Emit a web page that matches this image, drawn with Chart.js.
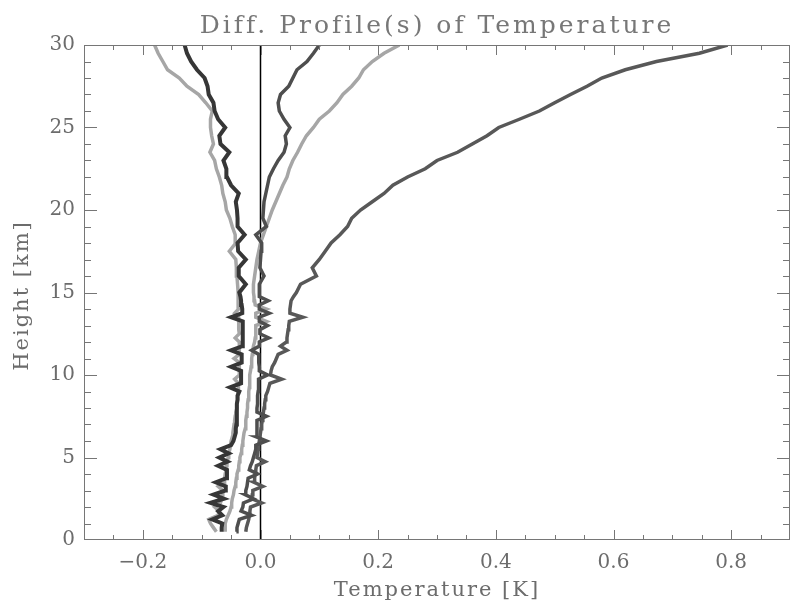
<!DOCTYPE html>
<html>
<head>
<meta charset="utf-8">
<title>Diff. Profile(s) of Temperature</title>
<script src="https://cdn.jsdelivr.net/npm/chart.js@4.4.1/dist/chart.umd.min.js"></script>
<style>
  html, body { margin: 0; padding: 0; background: #fff; }
  #profileChart { display: block; }
</style>
</head>
<body>
<canvas id="profileChart" width="792" height="612"></canvas>
<script>
// heights of the profile levels [km]: 0.25 km apart up to 15 km, 0.5 km above
const heights = [
  0.5, 0.75, 1, 1.25, 1.5, 1.75, 2, 2.25, 2.5, 2.75, 3, 3.25,
  3.5, 3.75, 4, 4.25, 4.5, 4.75, 5, 5.25, 5.5, 5.75, 6, 6.25,
  6.5, 6.75, 7, 7.25, 7.5, 7.75, 8, 8.25, 8.5, 8.75, 9, 9.25,
  9.5, 9.75, 10, 10.25, 10.5, 10.75, 11, 11.25, 11.5, 11.75, 12, 12.25,
  12.5, 12.75, 13, 13.25, 13.5, 13.75, 14, 14.25, 14.5, 14.75, 15,
  15.5, 16, 16.5, 17, 17.5, 18, 18.5, 19, 19.5, 20,
  20.5, 21, 21.5, 22, 22.5, 23, 23.5, 24, 24.5, 25,
  25.5, 26, 26.5, 27, 27.5, 28, 28.5, 29, 29.5, 30
];

// temperature differences [K], one value per height
const darkLeft = [
  -0.066, -0.066, -0.065, -0.082, -0.065, -0.072, -0.063, -0.085, -0.062, -0.080, -0.060, -0.059,
  -0.076, -0.058, -0.057, -0.057, -0.072, -0.056, -0.070, -0.054, -0.068, -0.050, -0.046, -0.044,
  -0.042, -0.042, -0.041, -0.041, -0.040, -0.040, -0.040, -0.040, -0.039, -0.039, -0.036, -0.052,
  -0.033, -0.033, -0.033, -0.033, -0.050, -0.032, -0.032, -0.032, -0.050, -0.031, -0.031, -0.030,
  -0.030, -0.030, -0.030, -0.030, -0.050, -0.031, -0.031, -0.032, -0.033, -0.034, -0.036,
  -0.025, -0.037, -0.037, -0.025, -0.038, -0.039, -0.027, -0.039, -0.039, -0.040,
  -0.042, -0.037, -0.050, -0.057, -0.058, -0.063, -0.053, -0.068, -0.070, -0.060,
  -0.072, -0.078, -0.080, -0.088, -0.090, -0.095, -0.108, -0.118, -0.125, -0.129
];
const lightLeft = [
  -0.075, -0.080, -0.085, -0.088, -0.072, -0.070, -0.078, -0.068, -0.066, -0.065, -0.064, -0.072,
  -0.062, -0.061, -0.060, -0.059, -0.058, -0.057, -0.055, -0.054, -0.052, -0.051, -0.050, -0.048,
  -0.047, -0.046, -0.045, -0.044, -0.043, -0.042, -0.040, -0.040, -0.039, -0.039, -0.038, -0.038,
  -0.037, -0.044, -0.036, -0.036, -0.036, -0.036, -0.045, -0.036, -0.036, -0.036, -0.036, -0.043,
  -0.036, -0.037, -0.037, -0.037, -0.037, -0.044, -0.037, -0.038, -0.038, -0.038, -0.038,
  -0.039, -0.040, -0.041, -0.042, -0.053, -0.042, -0.043, -0.048, -0.052, -0.058,
  -0.060, -0.064, -0.066, -0.070, -0.075, -0.078, -0.086, -0.080, -0.083, -0.085,
  -0.085, -0.082, -0.093, -0.105, -0.125, -0.138, -0.158, -0.166, -0.174, -0.180
];
const midRight = [
  -0.041, -0.040, -0.038, -0.036, -0.015, -0.033, -0.030, -0.029, -0.012, -0.026, -0.025, -0.023,
  -0.022, -0.021, -0.005, -0.019, -0.017, -0.014, -0.012, -0.010, -0.008, -0.008, 0.010, -0.007,
  -0.006, -0.006, -0.006, -0.006, 0.010, -0.006, -0.006, -0.005, -0.005, -0.005, -0.004, -0.004,
  -0.003, -0.003, 0.012, -0.002, -0.002, -0.003, -0.003, -0.003, -0.015, -0.002, -0.002, 0.014,
  -0.001, -0.001, 0.012, -0.002, -0.002, 0.015, -0.002, -0.002, 0.013, -0.002, -0.002,
  -0.002, 0.006, -0.001, 0.000, 0.001, 0.002, -0.008, 0.010, 0.004, 0.005,
  0.006, 0.009, 0.012, 0.015, 0.022, 0.030, 0.040, 0.044, 0.042, 0.050,
  0.040, 0.032, 0.030, 0.034, 0.048, 0.055, 0.062, 0.079, 0.090, 0.100
];
const lightRight = [
  -0.060, -0.060, -0.060, -0.058, -0.055, -0.052, -0.050, -0.049, -0.048, -0.046, -0.045, -0.043,
  -0.042, -0.041, -0.040, -0.038, -0.037, -0.036, -0.035, -0.033, -0.032, -0.031, -0.030, -0.029,
  -0.028, -0.026, -0.025, -0.025, -0.024, -0.023, -0.022, -0.022, -0.021, -0.020, -0.020, -0.019,
  -0.019, -0.018, -0.018, -0.017, -0.016, -0.015, -0.015, -0.014, -0.013, -0.012, -0.010, -0.009,
  -0.008, -0.008, -0.008, 0.010, -0.008, -0.008, 0.010, -0.009, -0.010, -0.011, -0.012,
  -0.012, -0.010, -0.008, -0.006, -0.003, 0.000, 0.005, 0.010, 0.015, 0.020,
  0.026, 0.032, 0.038, 0.045, 0.049, 0.055, 0.063, 0.070, 0.078, 0.090,
  0.100, 0.117, 0.130, 0.140, 0.155, 0.167, 0.175, 0.190, 0.210, 0.236
];
const farRight = [
  -0.025, -0.024, -0.022, -0.020, -0.019, -0.018, -0.017, 0.002, -0.015, -0.014, -0.013, 0.004,
  -0.011, -0.010, -0.009, -0.008, -0.007, 0.008, -0.006, -0.005, -0.004, -0.003, -0.002, -0.001,
  0.000, 0.001, 0.002, 0.003, 0.004, 0.005, 0.006, 0.007, 0.008, 0.009, 0.012, 0.014,
  0.016, 0.036, 0.017, 0.018, 0.020, 0.024, 0.027, 0.030, 0.045, 0.034, 0.044, 0.045,
  0.046, 0.047, 0.048, 0.049, 0.072, 0.050, 0.050, 0.051, 0.052, 0.056, 0.061,
  0.068, 0.095, 0.088, 0.100, 0.110, 0.120, 0.135, 0.148, 0.155, 0.170,
  0.190, 0.210, 0.225, 0.250, 0.280, 0.300, 0.335, 0.360, 0.385, 0.405,
  0.440, 0.474, 0.500, 0.527, 0.555, 0.580, 0.620, 0.673, 0.746, 0.794
];

// reference line at 0 K
const zeroLineX = [0, 0];
const zeroLineY = [0, 30];

// axes
const xRange = [-0.3, 0.9];
const yRange = [0, 30];
const xTickValues = [-0.2, 0.0, 0.2, 0.4, 0.6, 0.8];
const yTickValues = [0, 5, 10, 15, 20, 25, 30];
const xMinorStep = 0.05;
const yMinorStep = 1;

const titleText = "Diff. Profile(s) of Temperature";
const xTitleText = "Temperature [K]";
const yTitleText = "Height [km]";

const AXIS_GREY = "#767676";
const TEXT_GREY = "#6c6c6c";
const SERIF = "'DejaVu Serif', 'Liberation Serif', serif";

function toPoints(xs, ys) {
  return ys.map((y, i) => ({ x: xs[i], y: y }));
}

function profile(label, values, color, width) {
  return {
    label: label,
    data: toPoints(values, heights),
    showLine: true,
    borderColor: color,
    backgroundColor: color,
    borderWidth: width,
    borderJoinStyle: "miter",
    pointRadius: 0,
    tension: 0,
    fill: false,
  };
}

// box round the plot with IDL style inward ticks on all four sides
const boxTicks = {
  id: "boxTicks",
  afterDraw(chart) {
    const { ctx, chartArea: a, scales } = chart;
    const xs = scales.x, ys = scales.y;
    ctx.save();
    ctx.strokeStyle = AXIS_GREY;
    ctx.lineWidth = 1;
    ctx.strokeRect(a.left + 0.5, a.top + 0.5, a.right - a.left - 1, a.bottom - a.top - 1);

    ctx.beginPath();
    // x ticks, bottom and top
    const xCount = Math.round((xRange[1] - xRange[0]) / xMinorStep);
    for (let i = 1; i < xCount; i++) {
      const v = xRange[0] + i * xMinorStep;
      const major = xTickValues.some((t) => Math.abs(t - v) < 1e-6);
      const len = major ? 10 : 5;
      const px = Math.round(xs.getPixelForValue(v)) + 0.5;
      ctx.moveTo(px, a.bottom);
      ctx.lineTo(px, a.bottom - len);
      ctx.moveTo(px, a.top);
      ctx.lineTo(px, a.top + len);
    }
    // y ticks, left and right
    const yCount = Math.round((yRange[1] - yRange[0]) / yMinorStep);
    for (let i = 1; i < yCount; i++) {
      const v = yRange[0] + i * yMinorStep;
      const major = yTickValues.includes(v);
      const len = major ? 13 : 7;
      const py = Math.round(ys.getPixelForValue(v)) + 0.5;
      ctx.moveTo(a.left, py);
      ctx.lineTo(a.left + len, py);
      ctx.moveTo(a.right, py);
      ctx.lineTo(a.right - len, py);
    }
    ctx.stroke();
    ctx.restore();
  },
};

// titles in the wide, spaced out look of the original vector font
const spacedTitles = {
  id: "spacedTitles",
  afterDraw(chart) {
    const { ctx, chartArea: a } = chart;
    const cx = (a.left + a.right) / 2;
    ctx.save();
    ctx.textAlign = "center";

    ctx.letterSpacing = "3px";
    ctx.font = "25px " + SERIF;
    ctx.fillStyle = "#777777";
    ctx.textBaseline = "alphabetic";
    ctx.fillText(titleText, cx, 33);

    ctx.letterSpacing = "2px";
    ctx.font = "21px " + SERIF;
    ctx.fillStyle = TEXT_GREY;
    ctx.textBaseline = "middle";
    ctx.fillText(xTitleText, cx, 591);

    ctx.translate(23, (a.top + a.bottom) / 2 + 3);
    ctx.rotate(-Math.PI / 2);
    ctx.fillText(yTitleText, 0, 0);
    ctx.restore();
  },
};

document.addEventListener("DOMContentLoaded", function () {
  if (typeof Chart === "undefined") {
    console.error("Chart.js did not load");
    return;
  }

  const el = document.getElementById("profileChart");

  new Chart(el.getContext("2d"), {
    type: "scatter",
    data: {
      datasets: [
        profile("dark left", darkLeft, "#363636", 4),
        profile("mid right", midRight, "#4e4e4e", 3.5),
        profile("far right", farRight, "#585858", 3.5),
        profile("light left", lightLeft, "#a6a6a6", 3.5),
        profile("light right", lightRight, "#a6a6a6", 3.5),
        {
          label: "zero",
          data: toPoints(zeroLineX, zeroLineY),
          showLine: true,
          borderColor: "#000",
          borderWidth: 1.5,
          pointRadius: 0,
        },
      ],
    },
    options: {
      responsive: false,
      animation: false,
      events: [],
      layout: { padding: { left: 0, right: 2, top: 45, bottom: 0 } },
      plugins: {
        legend: { display: false },
        tooltip: { enabled: false },
        title: { display: false },
      },
      scales: {
        x: {
          type: "linear",
          min: xRange[0],
          max: xRange[1],
          afterBuildTicks: (s) => { s.ticks = xTickValues.map((v) => ({ value: v })); },
          afterFit: (s) => { s.height = 72; },
          grid: { display: false, drawTicks: false },
          border: { display: false },
          ticks: {
            color: TEXT_GREY,
            padding: 11,
            maxRotation: 0,
            font: { family: SERIF, size: 20 },
            callback: (v) => v.toFixed(1).replace("-", "\u2212"),
          },
        },
        y: {
          type: "linear",
          min: yRange[0],
          max: yRange[1],
          afterBuildTicks: (s) => { s.ticks = yTickValues.map((v) => ({ value: v })); },
          afterFit: (s) => { s.width = 84; },
          grid: { display: false, drawTicks: false },
          border: { display: false },
          ticks: {
            color: TEXT_GREY,
            padding: 9,
            font: { family: SERIF, size: 20 },
            callback: (v) => String(v),
          },
        },
      },
    },
    plugins: [boxTicks, spacedTitles],
  });
});
</script>
</body>
</html>
